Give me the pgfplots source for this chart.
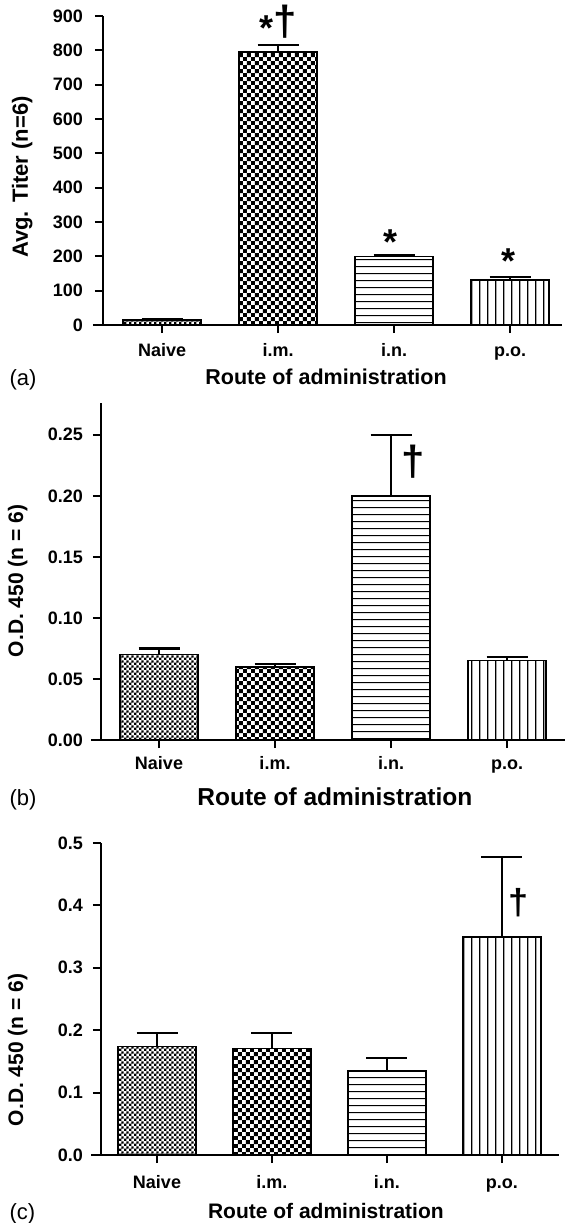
\documentclass[border=0pt]{standalone}
\usepackage{fontspec}
\setmainfont{Liberation Sans}
\usepackage{pgfplots}
\pgfplotsset{compat=1.18}
\usetikzlibrary{patterns}

\pgfdeclarepatternformonly{fineck}{\pgfqpoint{0pt}{0pt}}{\pgfqpoint{5.2pt}{5.2pt}}{\pgfqpoint{5.2pt}{5.2pt}}{%
  \pgfpathrectangle{\pgfqpoint{0pt}{0pt}}{\pgfqpoint{2.6pt}{2.6pt}}%
  \pgfpathrectangle{\pgfqpoint{2.6pt}{2.6pt}}{\pgfqpoint{2.6pt}{2.6pt}}%
  \pgfusepath{fill}}
\pgfdeclarepatternformonly{coarseck}{\pgfqpoint{0pt}{0pt}}{\pgfqpoint{8.4pt}{8.4pt}}{\pgfqpoint{8.4pt}{8.4pt}}{%
  \pgfpathrectangle{\pgfqpoint{0pt}{0pt}}{\pgfqpoint{4.2pt}{4.2pt}}%
  \pgfpathrectangle{\pgfqpoint{4.2pt}{4.2pt}}{\pgfqpoint{4.2pt}{4.2pt}}%
  \pgfusepath{fill}}
\pgfdeclarepatternformonly{hlin}{\pgfqpoint{0pt}{0pt}}{\pgfqpoint{600pt}{7.3pt}}{\pgfqpoint{600pt}{7.3pt}}{%
  \pgfsetlinewidth{1.2pt}%
  \pgfpathmoveto{\pgfqpoint{0pt}{3.65pt}}\pgfpathlineto{\pgfqpoint{600pt}{3.65pt}}%
  \pgfusepath{stroke}}
\pgfdeclarepatternformonly{vlin}{\pgfqpoint{0pt}{0pt}}{\pgfqpoint{7.8pt}{1300pt}}{\pgfqpoint{7.8pt}{1300pt}}{%
  \pgfsetlinewidth{1.2pt}%
  \pgfpathmoveto{\pgfqpoint{3.9pt}{0pt}}\pgfpathlineto{\pgfqpoint{3.9pt}{1300pt}}%
  \pgfusepath{stroke}}

\pgfplotsset{
  routeaxis/.style={
    scale only axis,
    clip=false,
    axis x line*=bottom, axis y line*=left,
    axis line style={-, line width=2pt, black},
    x axis line style={shorten <=-10pt},
    tick align=outside,
    major tick length=8pt,
    tick style={line width=2pt, black},
    ymin=0,
    xtick={0,1,2,3},
    xticklabels={Naive, i.m., i.n., p.o.},
    tick label style={font=\fontsize{18}{18}\selectfont\bfseries},
    /pgf/number format/assume math mode=true,
    yticklabel style={anchor=east, inner sep=0pt},
    xticklabel style={anchor=base, inner sep=0pt},
    ybar, bar width=78pt, bar shift=0pt,
    every axis plot/.append style={draw=black, line width=1.6pt, pattern color=black,
      error bars/y dir=plus, error bars/y explicit,
      error bars/error bar style={line width=2.2pt, black, solid},
      error bars/error mark options={rotate=90, mark size=20.5pt, line width=2.2pt, black, solid}},
  },
}

\begin{document}
\begin{tikzpicture}
\useasboundingbox (0pt,0pt) rectangle (565pt,-1223pt);

% ---------- (a) ----------
\begin{axis}[routeaxis,
  at={(103pt,-325pt)}, anchor=south west,
  width=459pt, height=309pt,
  xmin=-0.509, xmax=3.448, ymax=900,
  ytick={0,100,...,900},
  yticklabel style={xshift=-12pt},
  xticklabel style={yshift=-23pt},
  ylabel={Avg. Titer (n=6)},
  every axis y label/.style={at={(axis description cs:-0.1634,0.479)}, rotate=90, anchor=base, font=\fontsize{22}{22}\selectfont\bfseries},
  xlabel={Route of administration},
  every axis x label/.style={at={(axis description cs:0.486,-0.194)}, anchor=base, font=\fontsize{21.5}{21.5}\selectfont\bfseries},
]
\addplot[pattern=fineck] coordinates {(0,15) +- (0,3)};
\addplot[pattern=coarseck] coordinates {(1,795) +- (0,20)};
\addplot[pattern=hlin] coordinates {(2,199) +- (0,6)};
\addplot[pattern=vlin] coordinates {(3,131) +- (0,9)};
\node[font=\fontsize{36}{36}\selectfont\bfseries, anchor=center] at (axis cs:0.897,865) {*};
\node[font=\fontsize{42}{42}\selectfont\bfseries, anchor=base] at (axis cs:1.06,842) {†};
\node[font=\fontsize{36}{36}\selectfont\bfseries, anchor=center] at (axis cs:1.966,240) {*};
\node[font=\fontsize{36}{36}\selectfont\bfseries, anchor=center] at (axis cs:2.99,185) {*};
\end{axis}
\node[anchor=base west, font=\fontsize{22}{22}\selectfont] at (6pt,-385pt) {(a)};

% ---------- (b) ----------
\begin{axis}[routeaxis,
  at={(101pt,-740pt)}, anchor=south west,
  width=464pt, height=337pt,
  xmin=-0.5, xmax=3.5, ymax=0.276,
  ytick={0,0.05,...,0.26},
  yticklabel style={xshift=-10pt, /pgf/number format/fixed, /pgf/number format/fixed zerofill, /pgf/number format/precision=2},
  xticklabel style={yshift=-21.5pt},
  ylabel={O.D. 450 (n = 6)},
  every axis y label/.style={at={(axis description cs:-0.168,0.472)}, rotate=90, anchor=base, font=\fontsize{21}{21}\selectfont\bfseries},
  xlabel={Route of administration},
  every axis x label/.style={at={(axis description cs:0.504,-0.1958)}, anchor=base, font=\fontsize{24.5}{24.5}\selectfont\bfseries},
]
\addplot[pattern=fineck] coordinates {(0,0.070) +- (0,0.005)};
\addplot[pattern=coarseck] coordinates {(1,0.060) +- (0,0.002)};
\addplot[pattern=hlin] coordinates {(2,0.200) +- (0,0.050)};
\addplot[pattern=vlin] coordinates {(3,0.065) +- (0,0.003)};
\node[font=\fontsize{42}{42}\selectfont\bfseries, anchor=base] at (axis cs:2.19,0.2164) {†};
\end{axis}
\node[anchor=base west, font=\fontsize{22}{22}\selectfont] at (6pt,-805pt) {(b)};

% ---------- (c) ----------
\begin{axis}[routeaxis,
  at={(101pt,-1155pt)}, anchor=south west,
  width=458pt, height=312pt,
  xmin=-0.487, xmax=3.496, ymax=0.5,
  ytick={0,0.1,...,0.51},
  yticklabel style={xshift=-10pt, /pgf/number format/fixed, /pgf/number format/fixed zerofill, /pgf/number format/precision=1},
  xticklabel style={yshift=-25pt},
  ylabel={O.D. 450 (n = 6)},
  every axis y label/.style={at={(axis description cs:-0.170,0.337)}, rotate=90, anchor=base, font=\fontsize{21}{21}\selectfont\bfseries},
  xlabel={Route of administration},
  every axis x label/.style={at={(axis description cs:0.491,-0.205)}, anchor=base, font=\fontsize{21}{21}\selectfont\bfseries},
]
\addplot[pattern=fineck] coordinates {(0,0.174) +- (0,0.021)};
\addplot[pattern=coarseck] coordinates {(1,0.171) +- (0,0.025)};
\addplot[pattern=hlin] coordinates {(2,0.135) +- (0,0.020)};
\addplot[pattern=vlin] coordinates {(3,0.349) +- (0,0.128)};
\node[font=\fontsize{36}{36}\selectfont\bfseries, anchor=base] at (axis cs:3.148,0.386) {†};
\end{axis}
\node[anchor=base west, font=\fontsize{22}{22}\selectfont] at (6pt,-1219pt) {(c)};
\end{tikzpicture}
\end{document}
